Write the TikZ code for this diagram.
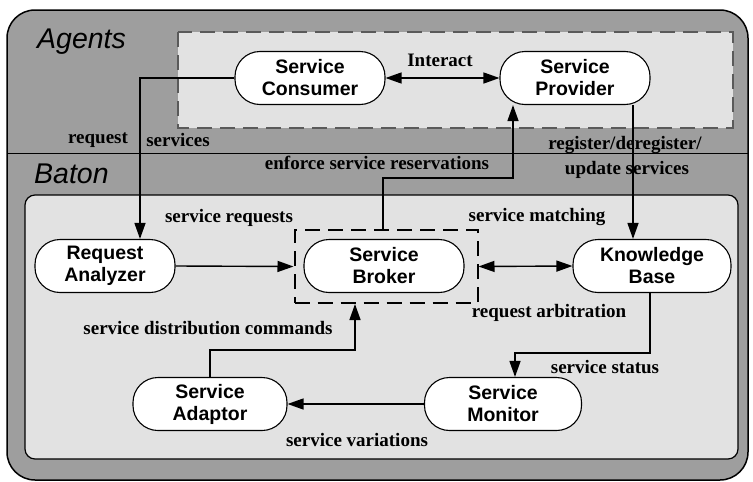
\documentclass[tikz,border=0pt]{standalone}
\usepackage{fontspec}
\setmainfont{Liberation Serif}
\setsansfont{Liberation Sans}
\usetikzlibrary{arrows.meta}
\definecolor{outergray}{HTML}{9E9E9E}
\definecolor{lightgray}{HTML}{E2E2E2}
\definecolor{dashgray}{HTML}{5A5A5A}
\begin{document}
\begin{tikzpicture}[x=1pt,y=-1pt,
  proc/.style={draw, line width=1.1pt, fill=white, rounded corners=25pt,
    minimum height=53pt, align=center, inner sep=0pt,
    font=\sffamily\bfseries\fontsize{19.5}{22}\selectfont},
  lbl/.style={inner sep=0pt, font=\rmfamily\bfseries\fontsize{19}{24}\selectfont, align=center},
  region/.style={inner sep=0pt, font=\sffamily\itshape\fontsize{28.5}{30}\selectfont},
  tip/.tip={Triangle[length=16pt,width=11pt]},
  conn/.style={line width=1.4pt, -tip},
  dconn/.style={line width=1.4pt, tip-tip},
  dbox/.style={draw, line width=2pt, dash pattern=on 15pt off 8pt}
]
\useasboundingbox (0,0) rectangle (753,482);
% outer regions
\draw[fill=outergray, line width=1.5pt, rounded corners=28pt] (7,10) rectangle (748,480);
\draw[line width=1pt] (7,153) -- (748,153);
\node[region, anchor=base west] (agents) at (37,48) {Agents};
\node[region, anchor=base west] (baton) at (34,183) {Baton};
\draw[dbox, draw=dashgray, fill=lightgray] (178,32) rectangle (733,128);
\draw[fill=lightgray, line width=1.2pt, rounded corners=10pt] (25,195) rectangle (738,459);

% broker group box
\node[dbox, minimum width=183pt, minimum height=73pt, inner sep=0pt] (sbox) at (386,266.5) {};

% nodes
\node[proc, minimum width=150pt] (cons) at (310,78) {Service\\Consumer};
\node[proc, minimum width=150pt] (prov) at (575,78) {Service\\Provider};
\node[proc, minimum width=140pt] (ra) at (105,266) {Request\\Analyzer};
\node[proc, minimum width=160pt] (sb) at (384,266) {Service\\Broker};
\node[proc, minimum width=158pt] (kb) at (652,266) {Knowledge\\Base};
\node[proc, minimum width=157pt] (sm) at (503,404) {Service\\Monitor};
\node[proc, minimum width=154pt] (sa) at (210,404) {Service\\Adaptor};

% connectors
\draw[dconn] (cons.east) -- (prov.west);
\draw[conn] (cons.west) -| ([xshift=35pt]ra.north);
\draw[conn] (ra.east) -- (sbox.west);
\draw[conn] ([xshift=-3pt]sbox.north) -- ([xshift=-3pt]sbox.north |- 0,178) -| ([xshift=-62pt]prov.south);
\draw[conn] ([xshift=58pt]prov.south) -- ([xshift=58pt]prov.south |- kb.north);
\draw[dconn] (sbox.east) -- (kb.west);
\draw[conn] ([xshift=-2pt]kb.south) -- ([xshift=-2pt]kb.south |- 0,353) -| ([xshift=12pt]sm.north);
\draw[conn] (sm.west) -- (sa.east);
\draw[conn] (sa.north) -- (sa.north |- 0,350) -| ([xshift=-31pt]sbox.south);

% labels
\node[lbl] (lint) at (440,60) {Interact};
\node[lbl] (lreq) at (98,140) {request};
\node[lbl] (lsvc) at (178,140) {services};
\node[lbl] (lenf) at (377,163) {enforce service reservations};
\node[lbl] (lreg) at (625,145) {register/deregister/};
\node[lbl] (lupd) at (627,170) {update services};
\node[lbl] (lsr) at (229,218) {service requests};
\node[lbl] (lsmat) at (537,217) {service matching};
\node[lbl] (larb) at (549,313) {request arbitration};
\node[lbl] (lsd) at (208,328) {service distribution commands};
\node[lbl] (lst) at (605,367) {service status};
\node[lbl] (lvar) at (357,440) {service variations};
\end{tikzpicture}
\end{document}
